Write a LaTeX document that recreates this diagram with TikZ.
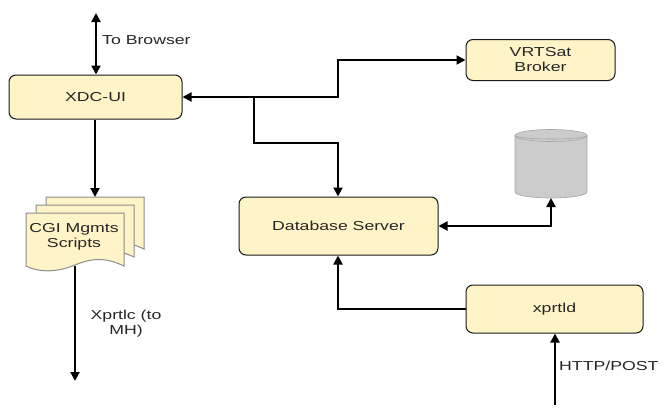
\documentclass[tikz,border=0pt]{standalone}
\usepackage{fontspec}
\setmainfont[FakeStretch=1.36]{Liberation Sans}
\usetikzlibrary{arrows.meta,calc}
\definecolor{boxfill}{RGB}{255,243,200}
\definecolor{boxline}{RGB}{25,25,25}
\definecolor{pageline}{RGB}{140,140,140}
\definecolor{cylfill}{RGB}{204,204,204}
\tikzset{
  x=1pt,y=-1pt,
  procbox/.style={draw=boxline,fill=boxfill,line width=1pt,rounded corners=7pt,align=center,inner sep=0pt,font=\fontsize{13}{15}\selectfont,text=black!85},
  lbl/.style={align=center,inner sep=0pt,font=\fontsize{13}{15}\selectfont,text=black!85},
  conn/.style={line width=2pt,-{Triangle[length=9pt,width=9pt]}},
  biconn/.style={line width=2pt,{Triangle[length=9pt,width=9pt]}-{Triangle[length=9pt,width=9pt]}},
  page/.style={draw=pageline,fill=boxfill,line width=1pt},
  cyl/.style={draw=black!35,fill=cylfill,line width=.6pt},
}
\begin{document}
\begin{tikzpicture}
\useasboundingbox (0,0) rectangle (664,413);
\node[procbox,minimum width=173pt,minimum height=44pt] (xdc) at (95.5,97) {XDC-UI};
\node[procbox,minimum width=149pt,minimum height=41pt] (vrt) at (540.5,60) {VRTSat\\Broker};
\node[procbox,minimum width=199pt,minimum height=58pt] (db) at (338.5,226) {Database Server};
\node[procbox,minimum width=177pt,minimum height=48pt] (xp) at (554.5,309) {xprtld};
% stacked document
\draw[page] (46,197) -- (144,197) -- (144,249) .. controls (125,240) and (105,240) .. (90,245) -- (46,245) -- cycle;
\draw[page] (36,205) -- (134,205) -- (134,257) .. controls (115,248) and (95,248) .. (80,253) -- (36,253) -- cycle;
\draw[page] (26,213) -- (124,213) -- (124,266) .. controls (105,257) and (92,258) .. (75,265) .. controls (58,272) and (40,273) .. (26,266) -- cycle;
\node[lbl] (cgi) at (74,237) {CGI Mgmts\\Scripts};
\coordinate (docbot) at (75,266);
\coordinate (doctop) at (95,197);
% cylinder
\draw[cyl] (515,135.5) -- (515,192) arc[start angle=180,end angle=360,x radius=36,y radius=-6] -- (587,135.5) -- cycle;
\draw[cyl] (551,135.5) ellipse[x radius=36,y radius=6];
\draw[cyl,fill=none] (515,135.5) arc[start angle=180,end angle=360,x radius=36,y radius=-3.5];
\coordinate (cylbot) at (551,198);
% free ends
\coordinate (browser) at (96,13);
\coordinate (mh) at (75,381);
\coordinate (http) at (555,405);
% connectors
\draw[biconn] (browser) -- (xdc.north-|browser);
\draw[conn] (xdc.south-|doctop) -- (doctop);
\draw[conn] (docbot) -- (mh);
\draw[biconn] (vrt.west) -- (338,60) -- (338,97) -- (xdc.east);
\draw[conn] (254,97) -- (254,143) -- (338,143) -- (db.north-|338,0);
\draw[biconn] (db.east) -- (551,226) -- (cylbot);
\draw[conn] (xp.west) -- (338,309) -- (db.south-|338,0);
\draw[conn] (http) -- (xp.south-|http);
% labels
\node[lbl,anchor=west] (tb) at (102,40) {To Browser};
\node[lbl] (xl) at (126,323.5) {Xprtlc (to\\MH)};
\node[lbl,anchor=west] (hp) at (559,366) {HTTP/POST};
\end{tikzpicture}
\end{document}
